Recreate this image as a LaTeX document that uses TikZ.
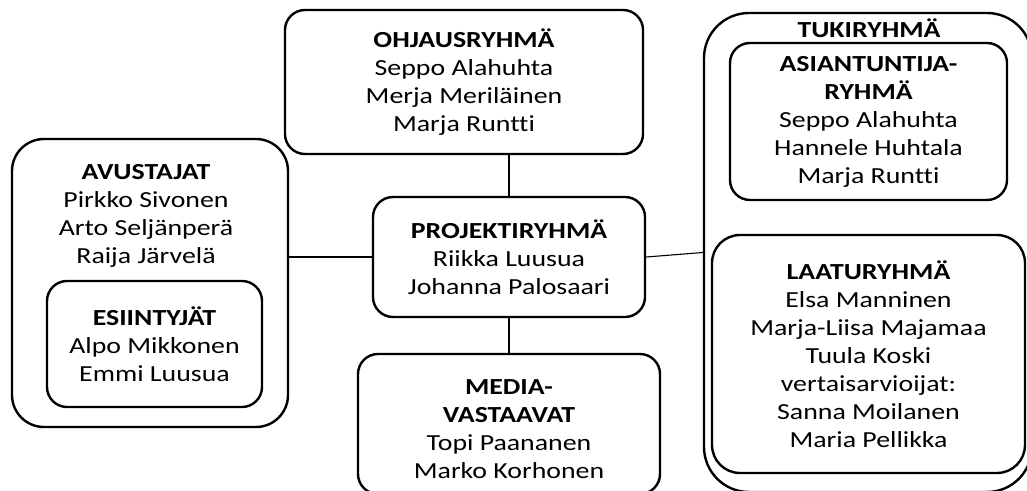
\documentclass[tikz,border=0pt]{standalone}
\usepackage{fontspec}
\setmainfont{Carlito}[FakeStretch=1.21, Ligatures=CommonOff]
\tikzset{
  box/.style={draw=black, line width=2.4pt, rounded corners=20pt, inner sep=0pt, align=center,
    font=\fontsize{23}{28}\selectfont},
  txt/.style={inner sep=0pt, align=center, font=\fontsize{23}{28}\selectfont},
  conn/.style={draw=black, line width=1.1pt}
}
\begin{document}
\begin{tikzpicture}[x=1pt,y=-1pt]
\useasboundingbox (0,0) rectangle (1027,490);
\clip (0,0) rectangle (1027,490);
% outer containers
\node[box, rounded corners=32pt, minimum width=276pt, minimum height=288pt] (avu) at (150,283) {};
\node[txt] (avut) at (146,216) {\textbf{AVUSTAJAT}\\Pirkko Sivonen\\Arto Seljänperä\\Raija Järvelä};
\node[box, minimum width=215pt, minimum height=126pt] (esi) at (154.5,344) {\textbf{ESIINTYJÄT}\\Alpo Mikkonen\\Emmi Luusua};
\node[box, rounded corners=45pt, minimum width=328pt, minimum height=479pt] (tuki) at (868,252.5) {};
\node[txt] (tukit) at (869,28) {\textbf{TUKIRYHMÄ}};
\node[box, minimum width=277pt, minimum height=157pt] (asi) at (868.5,121.5) {\textbf{ASIANTUNTIJA-}\\\textbf{RYHMÄ}\\Seppo Alahuhta\\Hannele Huhtala\\Marja Runtti};
\node[box, rounded corners=28pt, minimum width=313pt, minimum height=238pt] (laa) at (868.5,354) {\textbf{LAATURYHMÄ}\\Elsa Manninen\\Marja-Liisa Majamaa\\Tuula Koski\\vertaisarvioijat:\\Sanna Moilanen\\Maria Pellikka};
% central column
\node[box, minimum width=358pt, minimum height=144pt] (ohj) at (464,82) {\textbf{OHJAUSRYHMÄ}\\Seppo Alahuhta\\Merja Meriläinen\\Marja Runtti};
\node[box, minimum width=272pt, minimum height=120pt] (proj) at (509,257) {\textbf{PROJEKTIRYHMÄ}\\Riikka Luusua\\Johanna Palosaari};
\node[box, minimum width=302pt, minimum height=140pt] (med) at (509,424) {};
\node[txt] (medt) at (509,429) {\textbf{MEDIA-}\\\textbf{VASTAAVAT}\\Topi Paananen\\Marko Korhonen};
% connectors
\draw[conn] (proj.north) -- (proj.north |- ohj.south);
\draw[conn] (proj.south) -- (med.north);
\draw[conn] (proj.west) -- (proj.west -| avu.east);
\draw[conn] (proj.east) -- (tuki.west);
\end{tikzpicture}
\end{document}
